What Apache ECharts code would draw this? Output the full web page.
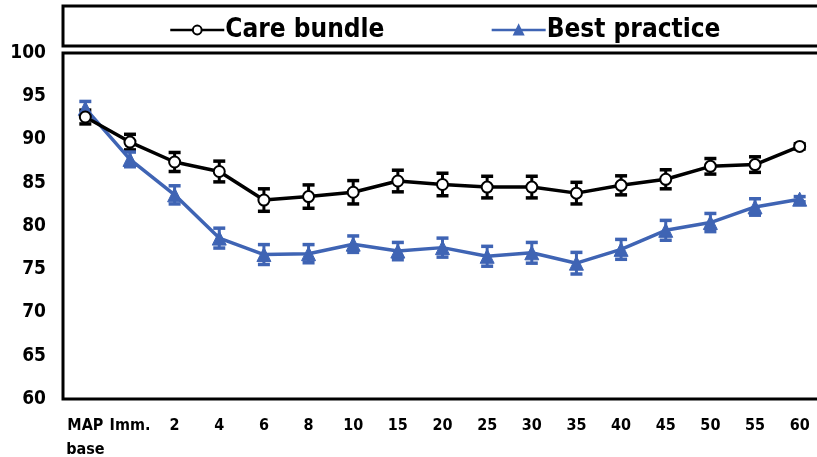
<!DOCTYPE html>
<html>
<head>
<meta charset="utf-8">
<script src="https://cdn.jsdelivr.net/npm/echarts@6/dist/echarts.min.js"></script>
<style>
  html, body { margin: 0; padding: 0; background: #fff; }
  #chart { width: 817px; height: 457px; }
</style>
</head>
<body>
<div id="chart"></div>
<script>
// time points
const categories = ['MAP\nbase', 'Imm.', '2', '4', '6', '8', '10', '15', '20', '25', '30', '35', '40', '45', '50', '55', '60'];

// means
const careBundle = [92.6, 89.7, 87.4, 86.3, 83.0, 83.4, 83.9, 85.2, 84.8, 84.5, 84.5, 83.8, 84.7, 85.4, 86.9, 87.1, 89.2];
const bestPractice = [93.6, 87.7, 83.6, 78.6, 76.7, 76.8, 77.9, 77.1, 77.5, 76.5, 76.9, 75.7, 77.3, 79.5, 80.4, 82.2, 83.1];

// error (+/-)
const careErr = [0.8, 0.9, 1.1, 1.2, 1.3, 1.35, 1.35, 1.25, 1.3, 1.25, 1.25, 1.25, 1.1, 1.1, 0.9, 0.9, 0.3];
const bestErr = [0.8, 0.85, 1.05, 1.15, 1.15, 1.05, 0.95, 1.0, 1.1, 1.15, 1.2, 1.25, 1.15, 1.15, 1.05, 0.95, 0.3];

const BLUE = '#3f64b4';
const FONT = '"Liberation Sans Narrow", "DejaVu Sans Condensed", sans-serif';

function errData(means, errs) {
    return means.map((m, i) => [i, m - errs[i], m + errs[i]]);
}

function errRender(color) {
    return function (params, api) {
        const lo = api.coord([api.value(0), api.value(1)]);
        const hi = api.coord([api.value(0), api.value(2)]);
        const half = 6;
        const style = { stroke: color, lineWidth: 3 };
        return {
            type: 'group',
            children: [
                { type: 'line', shape: { x1: lo[0], y1: lo[1], x2: hi[0], y2: hi[1] }, style: style },
                { type: 'line', shape: { x1: lo[0] - half, y1: lo[1], x2: lo[0] + half, y2: lo[1] }, style: { stroke: color, lineWidth: 3.5 } },
                { type: 'line', shape: { x1: hi[0] - half, y1: hi[1], x2: hi[0] + half, y2: hi[1] }, style: { stroke: color, lineWidth: 3.5 } }
            ]
        };
    };
}

const chart = echarts.init(document.getElementById('chart'));

const option = {
    animation: false,
    graphic: [{
        type: 'rect',
        shape: { x: 63, y: 6, width: 800, height: 40 },
        style: { fill: 'none', stroke: '#000', lineWidth: 3 },
        z: 10
    }],
    legend: {
        data: ['Care bundle', 'Best practice'],
        left: 164,
        top: 12,
        itemWidth: 54,
        itemHeight: 11,
        itemGap: 106,
        lineStyle: { width: 2.5 },
        textStyle: { fontFamily: FONT, fontWeight: 'bold', fontSize: 26, color: '#000', padding: [0, 0, 0, -4] }
    },
    grid: {
        left: 63,
        top: 53,
        width: 759,
        height: 346,
        outerBoundsMode: 'none',
        containLabel: false,
        show: true,
        borderColor: '#000',
        borderWidth: 3
    },
    xAxis: {
        type: 'category',
        data: categories,
        axisLine: { show: false },
        axisTick: { show: false },
        axisLabel: {
            margin: 15,
            interval: 0,
            fontFamily: FONT,
            fontWeight: 'bold',
            fontSize: 16,
            lineHeight: 24,
            color: '#000'
        }
    },
    yAxis: {
        type: 'value',
        min: 60,
        max: 100,
        interval: 5,
        splitLine: { show: false },
        axisLine: { show: false },
        axisTick: { show: false },
        axisLabel: {
            margin: 17,
            fontFamily: FONT,
            fontWeight: 'bold',
            fontSize: 19,
            color: '#000'
        }
    },
    series: [
        {
            name: 'careErr',
            type: 'custom',
            renderItem: errRender('#000'),
            data: errData(careBundle, careErr),
            encode: { x: 0, y: [1, 2] },
            z: 1
        },
        {
            name: 'bestErr',
            type: 'custom',
            renderItem: errRender(BLUE),
            data: errData(bestPractice, bestErr),
            encode: { x: 0, y: [1, 2] },
            z: 1
        },
        {
            name: 'Care bundle',
            type: 'line',
            data: careBundle,
            symbol: 'circle',
            symbolSize: 11,
            lineStyle: { color: '#000', width: 3.5 },
            itemStyle: { color: '#fff', borderColor: '#000', borderWidth: 2 },
            z: 3
        },
        {
            name: 'Best practice',
            type: 'line',
            data: bestPractice,
            symbol: 'triangle',
            symbolSize: 14,
            lineStyle: { color: BLUE, width: 3.5 },
            itemStyle: { color: BLUE, borderColor: BLUE, borderWidth: 1 },
            z: 2
        }
    ]
};

chart.setOption(option);
</script>
</body>
</html>
